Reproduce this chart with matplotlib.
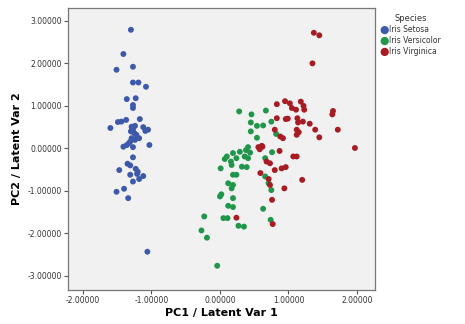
import numpy as np
import matplotlib.pyplot as plt

species = ["Iris Setosa", "Iris Versicolor", "Iris Virginica"]
colors = ["#3D59A9", "#1F964A", "#A71B22"]

setosa_x = [-1.30, -1.41, -1.51, -1.27, -1.27, -1.19, -1.08, -1.36, -1.23, -1.27,
            -1.27, -1.17, -1.44, -1.37, -1.60, -1.29, -1.24, -1.12, -1.05, -1.09,
            -1.30, -1.27, -1.22, -1.29, -1.24, -1.31, -1.36, -1.41, -1.27, -1.18,
            -1.03, -1.27, -1.35, -1.31, -1.47, -1.23, -1.20, -1.31, -1.12, -1.18,
            -1.27, -1.51, -1.40, -1.34, -1.06, -1.49, -1.25, -1.33, -1.21, -1.28]
setosa_y = [2.79, 2.22, 1.85, 1.92, 1.55, 1.55, 1.45, 1.16, 1.18, 1.02,
            0.95, 0.69, 0.63, 0.67, 0.48, 0.51, 0.53, 0.50, 0.44, 0.41,
            0.40, 0.44, 0.32, 0.24, 0.20, 0.16, 0.08, 0.04, 0.03, 0.24,
            0.08, -0.21, -0.36, -0.40, -0.51, -0.48, -0.55, -0.62, -0.65, -0.72,
            -0.78, -1.02, -0.95, -1.17, -2.43, 0.62, 0.36, 0.12, -0.60, 0.47]

versicolor_x = [0.28, 0.46, 0.67, 0.45, 0.54, 0.63, 0.75, 0.45, 0.54, 0.82,
                0.41, 0.38, 0.44, 0.41, 0.36, 0.29, 0.76, 0.19, 0.10, 0.07,
                0.24, 0.16, 0.17, 0.32, 0.39, 0.01, 0.66, 0.19, 0.24, 0.12,
                0.19, 0.17, 0.02, 0.00, 0.19, 0.12, 0.19, 0.63, -0.23, 0.05,
                0.11, 0.74, -0.27, -0.19, 0.27, 0.35, -0.04, 0.66, 0.71, 0.75]
versicolor_y = [0.87, 0.80, 0.89, 0.61, 0.53, 0.54, 0.63, 0.40, 0.25, 0.34,
                0.03, -0.04, -0.10, -0.23, -0.19, -0.08, -0.09, -0.11, -0.19, -0.25,
                -0.23, -0.31, -0.39, -0.43, -0.44, -0.47, -0.23, -0.62, -0.62, -0.82,
                -0.86, -0.94, -1.08, -1.13, -1.17, -1.35, -1.38, -1.42, -1.60, -1.64,
                -1.64, -1.68, -1.93, -2.10, -1.82, -1.84, -2.76, -0.66, -0.82, -0.98]

virginica_x = [1.37, 1.45, 1.35, 0.83, 0.95, 1.02, 1.18, 1.22, 1.23, 1.11,
               1.65, 1.64, 0.83, 0.96, 1.13, 1.14, 1.21, 1.31, 1.39, 0.80,
               1.12, 1.12, 1.72, 0.88, 0.92, 1.45, 1.97, 0.61, 0.58, 0.56,
               0.87, 1.07, 1.12, 0.68, 0.73, 0.80, 0.90, 0.96, 0.59, 0.71,
               0.73, 1.20, 0.94, 0.76, 0.24, 0.77, 0.99, 1.15, 1.05, 0.62]
virginica_y = [2.72, 2.66, 2.00, 1.04, 1.11, 1.06, 1.10, 1.00, 0.91, 0.91,
               0.88, 0.80, 0.71, 0.69, 0.71, 0.61, 0.63, 0.58, 0.44, 0.44,
               0.44, 0.32, 0.44, 0.28, 0.24, 0.26, 0.01, 0.06, -0.02, 0.03,
               -0.06, -0.19, -0.19, -0.31, -0.35, -0.51, -0.47, -0.44, -0.58, -0.72,
               -0.86, -0.74, -0.94, -1.21, -1.63, -1.78, 0.70, 0.38, 0.95, 0.04]

xticks = [-2.0, -1.0, 0.0, 1.0, 2.0]
yticks = [-3.0, -2.0, -1.0, 0.0, 1.0, 2.0, 3.0]

fig = plt.figure(figsize=(4.65, 3.24), dpi=100)
ax = fig.add_axes([0.146, 0.105, 0.66, 0.87])
ax.set_facecolor("#F1F1F1")

series = [(setosa_x, setosa_y), (versicolor_x, versicolor_y), (virginica_x, virginica_y)]
for (xs, ys), name, c in zip(series, species, colors):
    ax.scatter(xs, ys, s=18, color=c, label=name, edgecolors="none")

ax.set_xlim(-2.22, 2.26)
ax.set_ylim(-3.33, 3.3)
ax.set_xticks(xticks)
ax.set_yticks(yticks)
ax.set_xticklabels([f"{v:.5f}" for v in xticks], fontsize=5.5, color="#333333")
ax.set_yticklabels([f"{v:.5f}" for v in yticks], fontsize=5.5, color="#333333")
ax.tick_params(length=3, width=0.8, color="#555555", pad=1.5)
for sp in ax.spines.values():
    sp.set_color("#777777")
    sp.set_linewidth(0.9)

ax.set_xlabel("PC1 / Latent Var 1", fontsize=8, fontweight="bold", labelpad=2)
ax.set_ylabel("PC2 / Latent Var 2", fontsize=8, fontweight="bold", labelpad=4)

leg = ax.legend(title="Species", loc="upper left", bbox_to_anchor=(1.0, 1.0),
                frameon=False, fontsize=5.5, title_fontsize=6, handletextpad=0.1,
                borderaxespad=0.4, labelspacing=0.25, handlelength=1.0, markerscale=1.4)
for t in leg.get_texts():
    t.set_color("#333333")
leg.get_title().set_color("#333333")

fig.savefig("out.png", dpi=100)
